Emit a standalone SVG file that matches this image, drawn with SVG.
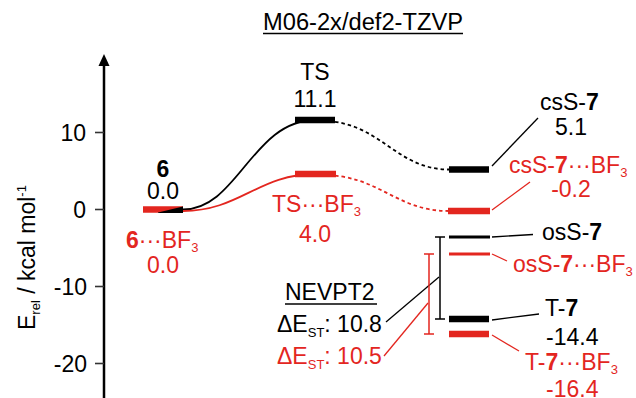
<svg xmlns="http://www.w3.org/2000/svg" width="636" height="398" viewBox="0 0 636 398">
<style>
text { font-family: "Liberation Sans", Arial, Helvetica, sans-serif; font-size: 23px; fill: #000; }
.r { fill: #e3261f; }
.b { font-weight: bold; }
.sub { font-size: 13px; }
.mid { text-anchor: middle; }
.end { text-anchor: end; }
.bar { stroke-width: 6.5; fill: none; }
.thin { stroke-width: 3; fill: none; }
.k { stroke: #000; }
.rd { stroke: #e3261f; }
.lead { stroke-width: 1.3; fill: none; }
.curve { fill: none; stroke-width: 1.8; }
.dot { stroke-dasharray: 3.5 3; }
.tick { stroke: #333; stroke-width: 1.6; }
</style>
<rect width="636" height="398" fill="#fff"/>

<g id="title">
  <text x="263" y="30" textLength="200" lengthAdjust="spacingAndGlyphs">M06-2x/def2-TZVP</text>
  <line x1="263" y1="33.5" x2="463" y2="33.5" stroke="#000" stroke-width="1.3"/>
</g>

<g id="axis">
  <line x1="104" y1="64" x2="104" y2="398" stroke="#000" stroke-width="2.5"/>
  <polygon points="104,54 98.5,66 109.5,66" fill="#000"/>
  <line class="tick" x1="95" y1="132.5" x2="104" y2="132.5"/>
  <line class="tick" x1="95" y1="209.5" x2="104" y2="209.5"/>
  <line class="tick" x1="95" y1="286.5" x2="104" y2="286.5"/>
  <line class="tick" x1="95" y1="363.5" x2="104" y2="363.5"/>
  <text class="end" x="86" y="141">10</text>
  <text class="end" x="86" y="218">0</text>
  <text class="end" x="87" y="295">-10</text>
  <text class="end" x="87" y="372">-20</text>
  <text transform="translate(35,330) rotate(-90)" font-size="24">E<tspan class="sub" dy="5">rel</tspan><tspan dy="-5"> / kcal mol</tspan><tspan class="sub" dy="-9">-1</tspan></text>
</g>

<g id="connectors">
  <path class="curve k" d="M183,209.5 C238,209.5 252,120 316,120"/>
  <path class="curve rd" d="M183,211 C240,211 258,174 316,174"/>
  <path class="curve k dot" d="M322,121 C380,121 395,169.5 449,169.5"/>
  <path class="curve rd dot" d="M322,175 C380,175 395,211 449,211"/>
  <line class="lead k" x1="492" y1="166" x2="538" y2="118"/>
  <line class="lead rd" x1="492" y1="210" x2="530" y2="182"/>
  <line class="lead k" x1="492" y1="237" x2="533" y2="234.5"/>
  <line class="lead rd" x1="492" y1="254" x2="507" y2="261"/>
  <line class="lead k" x1="492" y1="320" x2="539" y2="314"/>
  <line class="lead rd" x1="492" y1="335" x2="519" y2="351"/>
  <line class="lead k" x1="386" y1="322" x2="439" y2="277"/>
  <line class="lead rd" x1="384" y1="356" x2="428" y2="303"/>
</g>

<g id="lvl-6-BF3">
  <line class="bar rd" x1="143" y1="209.5" x2="183" y2="209.5" stroke-width="7"/>
  <text class="r" x="126" y="248"><tspan class="b">6</tspan>···BF<tspan class="sub" dy="4">3</tspan></text>
  <text class="r mid" x="163" y="273">0.0</text>
</g>
<g id="lvl-6">
  <polygon points="158,212.5 183,206.5 183,213 158,213" fill="#000"/>
  <text class="b mid" x="163" y="177">6</text>
  <text class="mid" x="163" y="199">0.0</text>
</g>

<g id="lvl-TS">
  <line class="bar k" x1="295" y1="120" x2="335" y2="120"/>
  <text class="mid" x="315" y="80">TS</text>
  <text class="mid" x="315" y="107">11.1</text>
</g>
<g id="lvl-TS-BF3">
  <line class="bar rd" x1="295" y1="174" x2="336" y2="174"/>
  <text class="r" x="272" y="212">TS···BF<tspan class="sub" dy="4">3</tspan></text>
  <text class="r mid" x="315" y="242">4.0</text>
</g>

<g id="lvl-csS-7">
  <line class="bar k" x1="449" y1="169.5" x2="489" y2="169.5"/>
  <text x="540" y="110">csS-<tspan class="b">7</tspan></text>
  <text class="mid" x="571" y="135">5.1</text>
</g>
<g id="lvl-csS-7-BF3">
  <line class="bar rd" x1="448" y1="211" x2="490" y2="211"/>
  <text class="r" x="509" y="173">csS-<tspan class="b">7</tspan>···BF<tspan class="sub" dy="4">3</tspan></text>
  <text class="r mid" x="571" y="197">-0.2</text>
</g>

<g id="lvl-osS-7">
  <line class="thin k" x1="449" y1="237" x2="490" y2="237"/>
  <text x="542" y="240">osS-<tspan class="b">7</tspan></text>
</g>
<g id="lvl-osS-7-BF3">
  <line class="thin rd" x1="449" y1="254" x2="490" y2="254"/>
  <text class="r" x="513" y="272">osS-<tspan class="b">7</tspan>···BF<tspan class="sub" dy="4">3</tspan></text>
</g>

<g id="lvl-T-7">
  <line class="bar k" x1="449" y1="319" x2="489" y2="319"/>
  <text x="545" y="316">T-<tspan class="b">7</tspan></text>
  <text x="546" y="345">-14.4</text>
</g>
<g id="lvl-T-7-BF3">
  <line class="bar rd" x1="449" y1="334" x2="489" y2="334"/>
  <text class="r" x="525" y="370">T-<tspan class="b">7</tspan>···BF<tspan class="sub" dy="4">3</tspan></text>
  <text class="r" x="546" y="397">-16.4</text>
</g>

<g id="nevpt2">
  <path d="M440,237 V319 M435,237 H445 M435,319 H445" stroke="#000" stroke-width="1.5" fill="none"/>
  <path d="M429,254 V334 M424,254 H434 M424,334 H434" stroke="#e3261f" stroke-width="1.5" fill="none"/>
  <text x="285" y="300">NEVPT2</text>
  <line x1="285" y1="304" x2="377" y2="304" stroke="#000" stroke-width="1.3"/>
  <text x="277" y="332">ΔE<tspan class="sub" dy="5">ST</tspan><tspan dy="-5">: 10.8</tspan></text>
  <text class="r" x="277" y="364">ΔE<tspan class="sub" dy="5">ST</tspan><tspan dy="-5">: 10.5</tspan></text>
</g>
</svg>
